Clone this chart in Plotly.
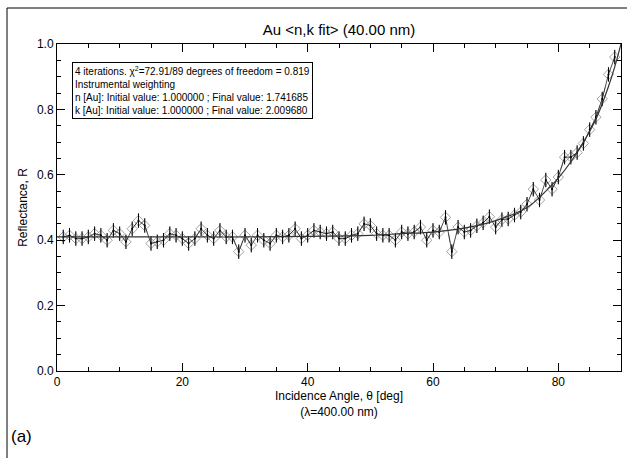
import plotly.graph_objects as go

# Measured reflectance vs incidence angle
angle = list(range(1, 90))
refl = [0.41, 0.415, 0.405, 0.405, 0.41, 0.42, 0.415, 0.40, 0.43, 0.42,
        0.395, 0.435, 0.46, 0.445, 0.39, 0.395, 0.40, 0.42, 0.415, 0.405,
        0.39, 0.405, 0.435, 0.415, 0.405, 0.43, 0.41, 0.41, 0.365, 0.415,
        0.385, 0.415, 0.40, 0.39, 0.415, 0.41, 0.415, 0.435, 0.405, 0.415,
        0.43, 0.425, 0.42, 0.425, 0.405, 0.405, 0.415, 0.42, 0.45, 0.445,
        0.42, 0.415, 0.415, 0.40, 0.425, 0.42, 0.425, 0.44, 0.40, 0.43,
        0.425, 0.47, 0.365, 0.44, 0.425, 0.43, 0.444, 0.453, 0.472, 0.44,
        0.463, 0.465, 0.477, 0.486, 0.51, 0.556, 0.523, 0.584, 0.556, 0.593,
        0.654, 0.654, 0.668, 0.696, 0.738, 0.776, 0.832, 0.907, 0.96]
err = [0.022] * len(angle)

# Fitted model curve
fit_angle = [0, 10, 20, 30, 40, 50, 55, 60, 65, 70, 75, 78, 80, 82, 84, 86, 88, 89, 90]
fit_refl = [0.41, 0.41, 0.41, 0.41, 0.412, 0.415, 0.42, 0.425, 0.437, 0.46,
            0.50, 0.55, 0.59, 0.64, 0.70, 0.77, 0.87, 0.93, 1.0]

x_ticks = [0, 20, 40, 60, 80]
y_ticks = [0.0, 0.2, 0.4, 0.6, 0.8, 1.0]

W, H = 627, 458
L, R, T, B = 57, 6, 44, 87
pw, ph = W - L - R, H - T - B

def px(X):
    return (X - L) / pw

def py(Y):
    return (H - B - Y) / ph

font = "Liberation Sans, Arial, Helvetica, sans-serif"

fig = go.Figure()
fig.add_trace(go.Scatter(
    x=angle, y=refl, mode="lines+markers",
    line=dict(color="#9a9a9a", width=0.8, dash="dash"),
    marker=dict(symbol="diamond-open", size=8, color="#8a8a8a", line=dict(width=0.8)),
    error_y=dict(type="data", array=err, color="#aaaaaa", thickness=1, width=0),
    showlegend=False,
))
fig.add_trace(go.Scatter(
    x=angle, y=refl, mode="lines+markers",
    line=dict(color="black", width=0.7),
    marker=dict(symbol="circle", size=2, color="black"),
    error_y=dict(type="data", array=err, color="black", thickness=1, width=0),
    showlegend=False,
))
fig.add_trace(go.Scatter(
    x=fit_angle, y=fit_refl, mode="lines", line_shape="spline",
    line=dict(color="#333333", width=1.2), showlegend=False,
))

axis_common = dict(
    showline=True, linecolor="black", linewidth=1, mirror="ticks",
    ticks="inside", ticklen=8, tickcolor="black", showgrid=False, zeroline=False,
    automargin=False,
    tickfont=dict(family=font, size=12, color="black"),
)
fig.update_xaxes(range=[0, 90], tickvals=x_ticks, ticktext=[str(v) for v in x_ticks],
                 minor=dict(dtick=5, tick0=0, ticks="inside", ticklen=4, tickcolor="black"),
                 title=dict(text="Incidence Angle, θ [deg]<br>(λ=400.00 nm)",
                            font=dict(family=font, size=12, color="black"), standoff=0),
                 **axis_common)
fig.update_yaxes(range=[0, 1.0], tickvals=y_ticks, ticktext=[f"{v:.1f}" for v in y_ticks],
                 minor=dict(dtick=0.05, tick0=0, ticks="inside", ticklen=4, tickcolor="black"),
                 title=dict(text="Reflectance, R", font=dict(family=font, size=12, color="black"),
                            standoff=6),
                 **axis_common)

box_text = ("4 iterations. χ<sup>2</sup>=72.91/89 degrees of freedom = 0.819<br>"
            "Instrumental weighting<br>"
            "n [Au]: Initial value: 1.000000 ; Final value: 1.741685<br>"
            "k [Au]: Initial value: 1.000000 ; Final value: 2.009680")
fig.add_annotation(xref="paper", yref="paper", x=px(72), y=py(62), xanchor="left", yanchor="top",
                   text=box_text, showarrow=False, align="left",
                   font=dict(family=font, size=10, color="black"),
                   bordercolor="black", borderwidth=1, borderpad=2, bgcolor="white")
fig.add_annotation(xref="paper", yref="paper", x=px(9), y=py(436), xanchor="left", yanchor="middle",
                   text="(a)", showarrow=False, font=dict(family=font, size=17, color="black"))

fig.add_shape(type="line", xref="paper", yref="paper", x0=px(7), x1=px(7), y0=py(8), y1=py(460),
              line=dict(color="black", width=1))
fig.add_shape(type="line", xref="paper", yref="paper", x0=px(7), x1=px(630), y0=py(8), y1=py(8),
              line=dict(color="black", width=1))

fig.update_layout(
    width=W, height=H, margin=dict(l=L, r=R, t=T, b=B, autoexpand=False),
    paper_bgcolor="white", plot_bgcolor="white",
    title=dict(text="Au &lt;n,k fit&gt; (40.00 nm)", x=(L + pw / 2) / W, xanchor="center",
               y=1 - 30 / H, yanchor="middle", font=dict(family=font, size=15, color="black")),
    font=dict(family=font),
)

fig.write_html("out.html", config={"displayModeBar": False},
               post_script="document.body.style.margin='0';")
